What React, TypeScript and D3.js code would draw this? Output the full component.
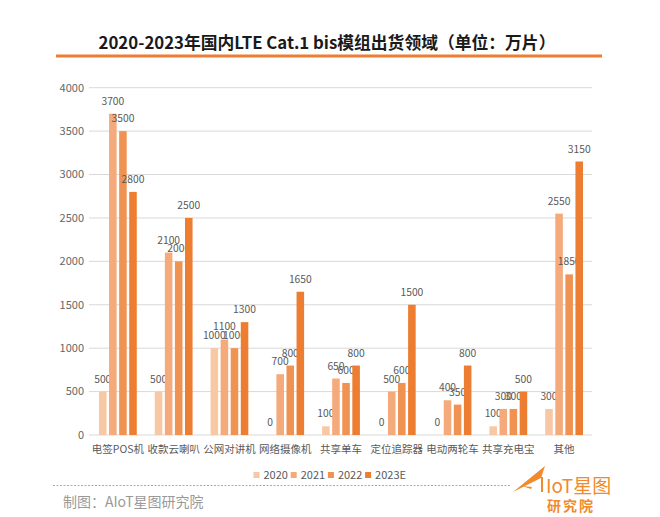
import React from "react";
import * as d3 from "d3";

const categories = ["电签POS机", "收款云喇叭", "公网对讲机", "网络摄像机", "共享单车", "定位追踪器", "电动两轮车", "共享充电宝", "其他"];
const seriesNames = ["2020", "2021", "2022", "2023E"];
const v2020 = [500, 500, 1000, 0, 100, 0, 0, 100, 300];
const v2021 = [3700, 2100, 1100, 700, 650, 500, 400, 300, 2550];
const v2022 = [3500, 2000, 1000, 800, 600, 600, 350, 300, 1850];
const v2023 = [2800, 2500, 1300, 1650, 800, 1500, 800, 500, 3150];
const seriesValues = [v2020, v2021, v2022, v2023];
const colors = ["#F8C7A3", "#F4AA7A", "#F09252", "#ED7D31"];
const yTicks = [0, 500, 1000, 1500, 2000, 2500, 3000, 3500, 4000];

const FONT = "'Noto Sans CJK SC', 'Noto Sans', sans-serif";

export default function App() {
  const W = 660, H = 517;
  const x0 = d3.scaleBand<string>().domain(categories).range([90, 592]).paddingInner(0).paddingOuter(0);
  const bw = x0.bandwidth();
  const x1 = d3.scaleBand<string>().domain(seriesNames).range([9, bw - 9]).paddingInner(0.25).paddingOuter(0);
  const y = d3.scaleLinear().domain([0, 4000]).range([435, 87.7]);

  return (
    <svg width={W} height={H} style={{ position: "absolute", left: 0, top: 0, background: "#fff" }} fontFamily={FONT}>
      <rect x={0} y={0} width={W} height={H} fill="#fff" />
      <text x={327} y={49} textAnchor="middle" fontSize={16.8} fontWeight="bold" fill="#1a1a1a">
        2020-2023年国内LTE Cat.1 bis模组出货领域（单位：万片）
      </text>
      <line x1={56} x2={602} y1={56} y2={56} stroke="#ED7D31" strokeWidth={3} />

      {yTicks.map((t) => (
        <g key={t}>
          <line x1={89} x2={592} y1={y(t)} y2={y(t)} stroke="#d9d9d9" strokeWidth={1} />
          <text x={84} y={y(t)} dy="0.35em" textAnchor="end" fontSize={11} fill="#666">{t}</text>
        </g>
      ))}

      {categories.map((c, ci) => (
        <g key={c} transform={`translate(${x0(c)},0)`}>
          {seriesNames.map((s, si) => {
            const v = seriesValues[si][ci];
            const bx = x1(s)!;
            return (
              <g key={s}>
                {v > 0 && (
                  <rect x={bx} y={y(v)} width={x1.bandwidth()} height={y(0) - y(v)} fill={colors[si]} />
                )}
                <text x={bx + x1.bandwidth() / 2} y={y(v) - 9} textAnchor="middle" fontSize={10.3} fill="#595959">{v}</text>
              </g>
            );
          })}
          <text x={bw / 2} y={449} dy="0.35em" textAnchor="middle" fontSize={10.5} fill="#595959">{c}</text>
        </g>
      ))}

      {seriesNames.map((s, i) => (
        <g key={s} transform={`translate(${253.5 + i * 37.2},475)`}>
          <rect x={0} y={-3} width={6} height={6} fill={colors[i]} />
          <text x={10} y={0} dy="0.35em" fontSize={11} fill="#595959">{s}</text>
        </g>
      ))}

      <line x1={53} x2={511} y1={485.5} y2={485.5} stroke="#aaa" strokeWidth={1} strokeDasharray="2,1.5" />
      <text x={63} y={502} dy="0.35em" fontSize={14} fill="#999">制图：AIoT星图研究院</text>

      <g>
        <path d="M513,492 L545,466 L541,478 Z" fill="#F08A2C" />
        <path d="M522,486 L532,487 L531,489 Z" fill="#F08A2C" />
        <line x1={542} x2={542} y1={477} y2={492} stroke="#F08A2C" strokeWidth={2} />
        <text x={546} y={493} fontSize={19} fill="#F08A2C" fontFamily="'Noto Sans CJK SC', sans-serif">IoT星图</text>
        <text x={547} y={511} fontSize={14} fontWeight="bold" fill="#F08A2C" letterSpacing={2}>研究院</text>
      </g>
    </svg>
  );
}
